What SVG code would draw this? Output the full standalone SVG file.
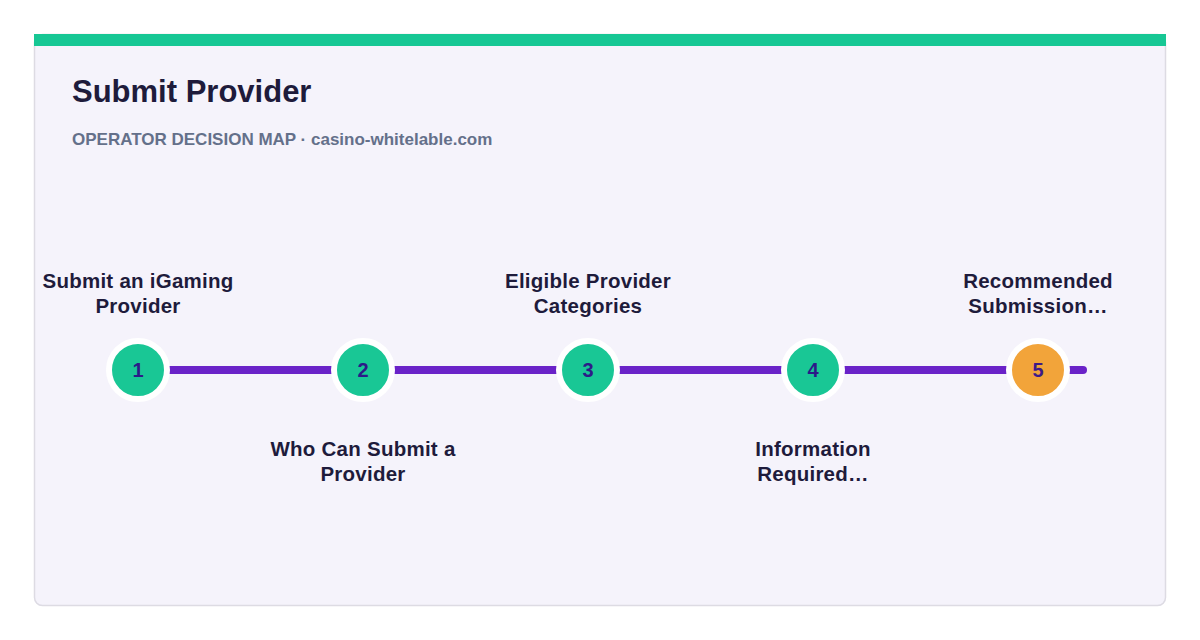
<svg xmlns="http://www.w3.org/2000/svg" width="1200" height="640" viewBox="0 0 1200 640">
<defs>
<style>
.lbl{font-family:"Liberation Sans",Arial,sans-serif;font-weight:bold;font-size:20.5px;letter-spacing:0.25px;fill:#1e1b3b;text-anchor:middle}
.num{font-family:"Liberation Sans",Arial,sans-serif;font-weight:bold;font-size:20px;fill:#2c1a88;text-anchor:middle}
.dot{stroke:#ffffff;stroke-width:6}
</style>
<clipPath id="cardclip"><rect x="34" y="34" width="1132" height="572" rx="8"/></clipPath>
</defs>
<rect width="1200" height="640" fill="#ffffff"/>
<g clip-path="url(#cardclip)">
<rect x="34" y="34" width="1132" height="572" fill="#f5f3fb"/>
</g>
<rect x="34.5" y="34.5" width="1131" height="571" rx="8" fill="none" stroke="#dddbe3" stroke-width="1.5"/>
<rect x="34" y="34" width="1132" height="12" fill="#17c794"/>
<text x="72" y="102" font-family="Liberation Sans,Arial,sans-serif" font-weight="bold" font-size="31" fill="#1e1b3b">Submit Provider</text>
<text x="72" y="145" font-family="Liberation Sans,Arial,sans-serif" font-weight="bold" font-size="17" fill="#64708a">OPERATOR DECISION MAP · casino-whitelable.com</text>
<g id="connectors">
<line x1="138" y1="370" x2="1083" y2="370" stroke="#6a22c8" stroke-width="8" stroke-linecap="round"/>
</g>
<g id="node1">
<circle class="dot" cx="138" cy="370" r="29" fill="#19c795"/>
<text class="num" x="138" y="377">1</text>
<text class="lbl" x="138" y="288">Submit an iGaming</text>
<text class="lbl" x="138" y="313">Provider</text>
</g>
<g id="node2">
<circle class="dot" cx="363" cy="370" r="29" fill="#19c795"/>
<text class="num" x="363" y="377">2</text>
<text class="lbl" x="363" y="456">Who Can Submit a</text>
<text class="lbl" x="363" y="481">Provider</text>
</g>
<g id="node3">
<circle class="dot" cx="588" cy="370" r="29" fill="#19c795"/>
<text class="num" x="588" y="377">3</text>
<text class="lbl" x="588" y="288">Eligible Provider</text>
<text class="lbl" x="588" y="313">Categories</text>
</g>
<g id="node4">
<circle class="dot" cx="813" cy="370" r="29" fill="#19c795"/>
<text class="num" x="813" y="377">4</text>
<text class="lbl" x="813" y="456">Information</text>
<text class="lbl" x="813" y="481">Required…</text>
</g>
<g id="node5">
<circle class="dot" cx="1038" cy="370" r="29" fill="#f2a43a"/>
<text class="num" x="1038" y="377" style="fill:#3d1a88">5</text>
<text class="lbl" x="1038" y="288">Recommended</text>
<text class="lbl" x="1038" y="313">Submission…</text>
</g>
</svg>
